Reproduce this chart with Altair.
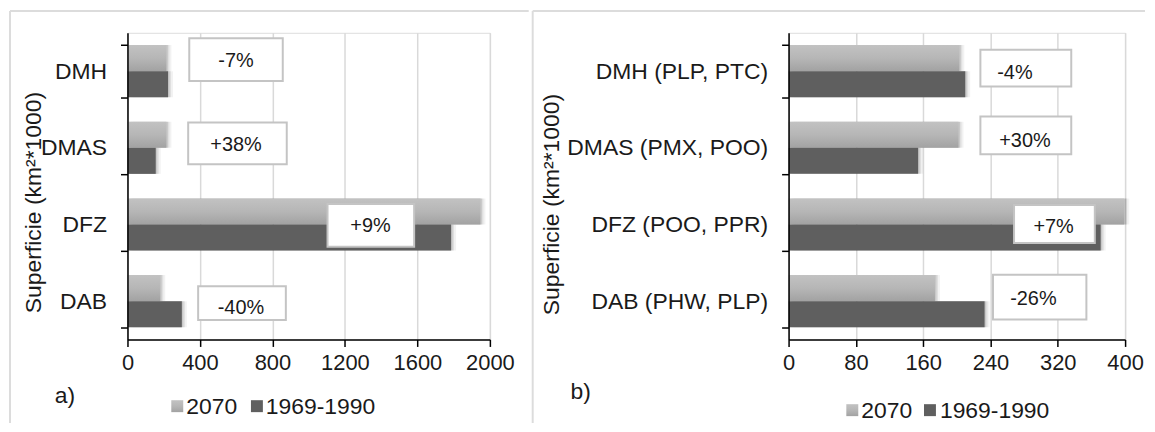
import altair as alt
import pandas as pd

# ---------------- data ----------------
series = ["2070", "1969-1990"]

cats_a = ["DMH", "DMAS", "DFZ", "DAB"]
a_2070 = [215, 215, 1948, 181]
a_base = [224, 156, 1786, 300]
labels_a = ["-7%", "+38%", "+9%", "-40%"]
ticks_a = [0, 400, 800, 1200, 1600, 2000]

cats_b = ["DMH (PLP, PTC)", "DMAS (PMX, POO)", "DFZ (POO, PPR)", "DAB (PHW, PLP)"]
b_2070 = [203, 202, 399, 174]
b_base = [210, 154, 371, 233]
labels_b = ["-4%", "+30%", "+7%", "-26%"]
ticks_b = [0, 80, 160, 240, 320, 400]

y_title = "Superficie (km²*1000)"

# ---------------- annotation box layout (x in data units, dy/h in px) ----------------
box_a = dict(lo=[341, 335, 1104, 390], hi=[857, 879, 1582, 874],
             dy=[-11.5, -4.5, 1, 2], h=[43, 42, 43, 34],
             tx=[599, 599, 1341, 626], tdy=[-10, -3, 1.5, 7])
box_b = dict(lo=[228, 228, 268, 243], hi=[336, 336, 364, 354],
             dy=[-3, -12.5, -0.5, -4], h=[37, 38, 38, 45],
             tx=[269, 281, 315, 291], tdy=[1.5, -7, 2.5, -2.5])

FONT = "Liberation Sans"
TXT = "#1a1a1a"
FRAME = "#dcdcdc"

light = alt.Gradient(gradient="linear",
                     stops=[alt.GradientStop(color="#c2c2c2", offset=0),
                            alt.GradientStop(color="#b6b6b6", offset=0.5),
                            alt.GradientStop(color="#a2a2a2", offset=1)],
                     x1=0, x2=0, y1=0, y2=1)
dark = "#5f5f5f"


def panel(cats, v1, v2, labels, ticks, box, W, H, title_x, title_y,
          leg, letter, letter_xy, frame):
    xscale = alt.Scale(domain=[ticks[0], ticks[-1]], nice=False, zero=True)
    yscale = alt.Scale(domain=cats, paddingInner=0.32, paddingOuter=0.16)
    xaxis = alt.Axis(values=ticks, format="d", grid=True, gridColor="#d9d9d9", gridWidth=1.5,
                     domainColor="black", domainWidth=1.5, tickColor="black",
                     tickSize=7, tickWidth=1.5, labelFontSize=22, labelColor=TXT,
                     labelPadding=6, labelFlush=False, title=None, labelFont=FONT)
    yaxis = alt.Axis(title=y_title, titleFontSize=23, titleFontWeight="normal",
                     titleColor=TXT, titleX=title_x, titleY=title_y,
                     titleBaseline="middle", titleAlign="center", titleFont=FONT,
                     labelFontSize=23, labelColor=TXT, labelPadding=14, labelFont=FONT,
                     labelLimit=400, tickSize=7, tickWidth=1.5, tickColor="black",
                     tickBand="extent", domainColor="black", domainWidth=1.5,
                     grid=False, zindex=1)
    Y = alt.Y("cat:N", sort=cats, scale=yscale, axis=yaxis)
    YO = alt.YOffset("series:N", sort=series,
                     scale=alt.Scale(domain=series, paddingInner=0, paddingOuter=0))

    d1 = pd.DataFrame({"cat": cats, "series": "2070", "v": v1})
    d2 = pd.DataFrame({"cat": cats, "series": "1969-1990", "v": v2})
    X = alt.X("v:Q", scale=xscale, axis=xaxis)

    layers = []
    # soft drop shadow under the bars
    for off, op in ((5, 0.05), (3, 0.08), (1.5, 0.1)):
        for d in (d1, d2):
            layers.append(alt.Chart(d).mark_bar(color="black", opacity=op,
                                                xOffset=off, yOffset=off)
                          .encode(y=Y, yOffset=YO, x=X))
    layers += [
        alt.Chart(d1).mark_bar(color=light).encode(y=Y, yOffset=YO, x=X),
        alt.Chart(d2).mark_bar(color=dark).encode(y=Y, yOffset=YO, x=X),
    ]
    for i, c in enumerate(cats):
        bd = pd.DataFrame({"cat": [c], "lo": [box["lo"][i]], "hi": [box["hi"][i]]})
        layers.append(
            alt.Chart(bd).mark_bar(height=box["h"][i], yOffset=box["dy"][i],
                                   fill="white", stroke="#c4c4c4", strokeWidth=2)
            .encode(y=Y, x=alt.X("lo:Q", scale=xscale, axis=xaxis), x2="hi:Q"))
        td = pd.DataFrame({"cat": [c], "tx": [box["tx"][i]], "label": [labels[i]]})
        layers.append(
            alt.Chart(td).mark_text(yOffset=box["tdy"][i], fontSize=20, color=TXT,
                                    font=FONT, align="center", baseline="middle")
            .encode(y=Y, x=alt.X("tx:Q", scale=xscale, axis=xaxis), text="label:N"))

    dummy = pd.DataFrame({"d": [0]})
    # legend swatches and texts
    sx1, sx2, tx1, tx2, ly = leg
    layers.append(alt.Chart(dummy).mark_rect(color=light).encode(
        x=alt.value(sx1), x2=alt.value(sx1 + 12), y=alt.value(ly - 6), y2=alt.value(ly + 6)))
    layers.append(alt.Chart(dummy).mark_rect(color=dark).encode(
        x=alt.value(sx2), x2=alt.value(sx2 + 12), y=alt.value(ly - 6), y2=alt.value(ly + 6)))
    layers.append(alt.Chart(dummy).mark_text(text=series[0], fontSize=23, color=TXT, font=FONT,
                                             align="left", baseline="middle").encode(
        x=alt.value(tx1), y=alt.value(ly + 1)))
    layers.append(alt.Chart(dummy).mark_text(text=series[1], fontSize=23, color=TXT, font=FONT,
                                             align="left", baseline="middle").encode(
        x=alt.value(tx2), y=alt.value(ly + 1)))
    layers.append(alt.Chart(dummy).mark_text(text=letter, fontSize=23, color=TXT, font=FONT,
                                             align="left", baseline="middle").encode(
        x=alt.value(letter_xy[0]), y=alt.value(letter_xy[1])))
    # frame lines
    fl, ft, fr, fb, vert = frame
    layers.append(alt.Chart(dummy).mark_rule(color=FRAME, strokeWidth=2).encode(
        x=alt.value(fl), x2=alt.value(fr), y=alt.value(ft)))
    layers.append(alt.Chart(dummy).mark_rule(color=FRAME, strokeWidth=2).encode(
        x=alt.value(vert), y=alt.value(ft), y2=alt.value(fb)))

    return alt.layer(*layers).properties(width=W, height=H)


left = panel(cats_a, a_2070, a_base, labels_a, ticks_a, box_a, 364, 308,
             title_x=-94, title_y=170,
             leg=(44, 124, 59, 139, 375), letter="a)", letter_xy=(-73, 365),
             frame=(-118, -22, 403, 392, -118))
right = panel(cats_b, b_2070, b_base, labels_b, ticks_b, box_b, 338, 308,
              title_x=-238, title_y=172,
              leg=(58, 136, 73, 152, 379), letter="b)", letter_xy=(-219, 361),
              frame=(-257, -22, 358, 392, -257))

chart = alt.hconcat(left, right, spacing=0).properties(padding=0).configure_view(
    strokeWidth=0).configure(font=FONT)

chart.save("out.html", embed_options={"renderer": "svg", "actions": False})
